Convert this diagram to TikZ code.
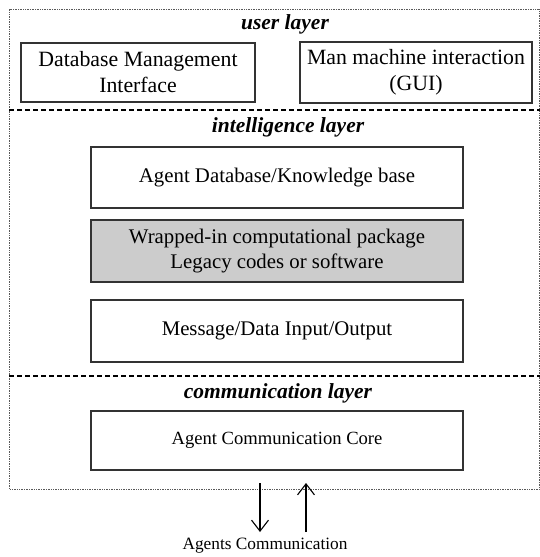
\documentclass[tikz,border=0pt]{standalone}
\usepackage{fontspec}
\setmainfont{Liberation Serif}
\usetikzlibrary{arrows.meta}
\newcommand{\fsz}[2][25]{\fontsize{#2}{#1}\selectfont}
\begin{document}
\begin{tikzpicture}[x=1pt,y=-1pt,
  layerbox/.style={draw=black!80, line width=1.1pt, fill=white, minimum height=61pt,
    align=center, font=\fsz{20.8}, inner sep=0pt},
  widebox/.style={layerbox, minimum width=372pt},
  shadebox/.style={widebox, fill=black!20},
  userbox/.style={layerbox, font=\fsz[26]{21.8}},
  layertitle/.style={font=\fsz{21.5}\bfseries\itshape, inner sep=0pt},
  divider/.style={line width=1.5pt, dash pattern=on 5pt off 3pt},
  frameline/.style={draw=black!65, line width=0.7pt, densely dotted},
  flow/.style={line width=1.1pt, -{Straight Barb[length=11pt,width=17pt,line width=1.1pt]}}
]
\useasboundingbox (0,0) rectangle (540,557);

% outer agent frame
\draw[frameline] (9.5,9) -- (539.5,9) -- (539.5,489) -- (9.5,489) -- cycle;

% layer separators
\draw[divider] (9,110) -- (540,110);
\draw[divider] (9,376) -- (540,376);

% user layer
\node[layertitle] (ut) at (285,24) {user layer};
\node[userbox, minimum width=234pt, minimum height=59pt] (dbm) at (138,72.5)
  {Database Management\\Interface};
\node[userbox, minimum width=232pt] (gui) at (416,72.5)
  {Man machine interaction\\(GUI)};

% intelligence layer
\node[layertitle] (it) at (288,127) {intelligence layer};
\node[widebox] (kb) at (277,177.5) {Agent Database/Knowledge base};
\node[shadebox, minimum height=62pt] (pkg) at (277,251)
  {Wrapped-in computational package\\Legacy codes or software};
\node[widebox, minimum height=62pt] (io) at (277,331) {Message/Data Input/Output};

% communication layer
\node[layertitle] (ct) at (278,393) {communication layer};
\node[widebox, minimum height=59pt, font=\fsz{18.6}] (core) at (277,440.5) {Agent Communication Core};

% external communication
\node[font=\fsz{17.3}, inner sep=0pt] (ext) at (265,546) {Agents Communication};
\coordinate (outtop) at (260,483);
\coordinate (outbot) at (260,532);
\coordinate (intop) at (306,483);
\coordinate (inbot) at (306,532);
\draw[flow] (outtop) -- (outbot);
\draw[flow] (inbot) -- (intop);
\end{tikzpicture}
\end{document}
